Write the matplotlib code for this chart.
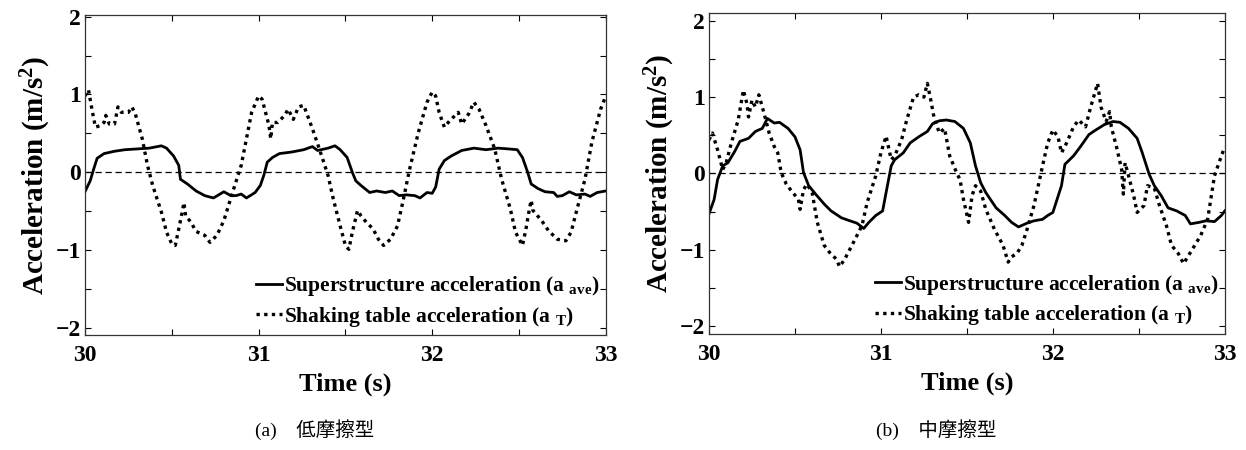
import numpy as np
import matplotlib.pyplot as plt
from matplotlib.ticker import MultipleLocator

plt.rcParams['font.family'] = ['Liberation Serif', 'Noto Sans CJK JP']
plt.rcParams['mathtext.fontset'] = 'custom'
plt.rcParams['mathtext.rm'] = 'Liberation Serif:bold'
plt.rcParams['mathtext.it'] = 'Liberation Serif:bold'
plt.rcParams['mathtext.bf'] = 'Liberation Serif:bold'

# (a) low friction: superstructure acceleration
t_sup_a = [30.00, 30.03, 30.05, 30.07, 30.11, 30.17, 30.23, 30.30, 30.37, 30.44, 30.47, 30.51,
           30.54, 30.55, 30.59, 30.64, 30.69, 30.74, 30.77, 30.80, 30.84, 30.87, 30.90, 30.93,
           30.98, 31.01, 31.03, 31.05, 31.08, 31.12, 31.19, 31.26, 31.31, 31.34, 31.40, 31.44,
           31.47, 31.51, 31.54, 31.56, 31.59, 31.64, 31.68, 31.73, 31.77, 31.81, 31.85, 31.90,
           31.93, 31.97, 32.00, 32.02, 32.04, 32.07, 32.11, 32.17, 32.24, 32.31, 32.38, 32.44,
           32.49, 32.52, 32.55, 32.57, 32.61, 32.65, 32.70, 32.72, 32.75, 32.79, 32.83, 32.88,
           32.91, 32.95, 33.00]
a_sup_a = [-0.25, -0.11, 0.04, 0.18, 0.24, 0.27, 0.29, 0.30, 0.31, 0.34, 0.31, 0.21,
           0.09, -0.09, -0.15, -0.24, -0.30, -0.33, -0.29, -0.25, -0.30, -0.30, -0.28, -0.33,
           -0.26, -0.17, -0.04, 0.13, 0.19, 0.24, 0.26, 0.29, 0.33, 0.28, 0.31, 0.34,
           0.29, 0.19, 0.00, -0.11, -0.17, -0.26, -0.24, -0.26, -0.24, -0.30, -0.29, -0.30,
           -0.33, -0.26, -0.27, -0.19, 0.04, 0.15, 0.21, 0.28, 0.31, 0.29, 0.31, 0.30,
           0.29, 0.19, 0.00, -0.15, -0.21, -0.25, -0.26, -0.31, -0.30, -0.25, -0.29, -0.28,
           -0.31, -0.26, -0.24]

# (a) low friction: shaking table acceleration
t_tab_a = [30.00, 30.02, 30.04, 30.06, 30.09, 30.11, 30.12, 30.14, 30.17, 30.19, 30.21, 30.25,
           30.27, 30.29, 30.33, 30.36, 30.39, 30.44, 30.47, 30.50, 30.52, 30.54, 30.56, 30.57,
           30.58, 30.61, 30.64, 30.69, 30.72, 30.76, 30.80, 30.85, 30.90, 30.93, 30.96, 31.00,
           31.02, 31.04, 31.06, 31.07, 31.08, 31.11, 31.15, 31.17, 31.20, 31.23, 31.26, 31.31,
           31.35, 31.40, 31.43, 31.47, 31.50, 31.52, 31.54, 31.57, 31.59, 31.62, 31.66, 31.69,
           31.72, 31.76, 31.80, 31.83, 31.87, 31.92, 31.97, 32.00, 32.02, 32.04, 32.07, 32.10,
           32.15, 32.17, 32.21, 32.24, 32.27, 32.31, 32.36, 32.40, 32.45, 32.48, 32.52, 32.54,
           32.56, 32.57, 32.58, 32.63, 32.67, 32.72, 32.77, 32.80, 32.83, 32.88, 32.92, 32.97,
           33.00]
a_tab_a = [0.98, 1.06, 0.81, 0.58, 0.60, 0.64, 0.73, 0.62, 0.62, 0.84, 0.77, 0.77,
           0.84, 0.75, 0.43, 0.09, -0.17, -0.51, -0.77, -0.92, -0.94, -0.73, -0.51, -0.39,
           -0.56, -0.64, -0.76, -0.81, -0.90, -0.81, -0.62, -0.26, 0.09, 0.43, 0.77, 0.98,
           0.94, 0.77, 0.60, 0.43, 0.64, 0.64, 0.73, 0.81, 0.68, 0.84, 0.86, 0.56,
           0.30, -0.04, -0.34, -0.69, -0.94, -0.99, -0.77, -0.49, -0.56, -0.64, -0.73, -0.86,
           -0.94, -0.86, -0.69, -0.39, 0.04, 0.51, 0.90, 1.03, 0.98, 0.77, 0.58, 0.66,
           0.77, 0.62, 0.75, 0.90, 0.81, 0.60, 0.30, -0.09, -0.47, -0.77, -0.94, -0.73,
           -0.47, -0.36, -0.49, -0.62, -0.75, -0.86, -0.88, -0.77, -0.51, -0.09, 0.39, 0.81,
           0.98]

# (b) medium friction: superstructure acceleration
t_sup_b = [30.00, 30.03, 30.05, 30.08, 30.11, 30.15, 30.18, 30.23, 30.27, 30.31, 30.34, 30.38,
           30.41, 30.46, 30.50, 30.53, 30.55, 30.58, 30.62, 30.67, 30.71, 30.77, 30.82, 30.86,
           30.90, 30.93, 30.97, 31.01, 31.03, 31.06, 31.08, 31.13, 31.17, 31.22, 31.27, 31.30,
           31.34, 31.38, 31.43, 31.48, 31.52, 31.55, 31.58, 31.61, 31.67, 31.72, 31.76, 31.80,
           31.85, 31.89, 31.94, 31.97, 32.00, 32.05, 32.07, 32.12, 32.16, 32.21, 32.25, 32.30,
           32.35, 32.39, 32.44, 32.49, 32.52, 32.56, 32.59, 32.63, 32.67, 32.72, 32.77, 32.80,
           32.85, 32.89, 32.94, 32.98, 33.00]
a_sup_b = [-0.53, -0.34, -0.08, 0.10, 0.14, 0.29, 0.42, 0.46, 0.55, 0.59, 0.72, 0.66,
           0.67, 0.59, 0.48, 0.31, 0.01, -0.16, -0.27, -0.40, -0.49, -0.58, -0.62, -0.65,
           -0.72, -0.64, -0.55, -0.49, -0.25, 0.10, 0.18, 0.27, 0.40, 0.48, 0.55, 0.65,
           0.69, 0.70, 0.68, 0.59, 0.40, 0.10, -0.12, -0.25, -0.45, -0.55, -0.64, -0.70,
           -0.65, -0.62, -0.60, -0.55, -0.51, -0.16, 0.12, 0.23, 0.35, 0.51, 0.57, 0.64,
           0.68, 0.67, 0.59, 0.46, 0.27, -0.01, -0.16, -0.29, -0.45, -0.49, -0.55, -0.66,
           -0.64, -0.62, -0.63, -0.55, -0.49]

# (b) medium friction: shaking table acceleration
t_tab_b = [30.00, 30.02, 30.05, 30.08, 30.10, 30.13, 30.17, 30.20, 30.22, 30.23, 30.25, 30.27,
           30.29, 30.32, 30.35, 30.38, 30.40, 30.42, 30.45, 30.48, 30.52, 30.53, 30.55, 30.57,
           30.60, 30.63, 30.67, 30.70, 30.74, 30.76, 30.79, 30.82, 30.85, 30.89, 30.92, 30.97,
           31.00, 31.03, 31.06, 31.08, 31.12, 31.15, 31.19, 31.22, 31.25, 31.27, 31.29, 31.31,
           31.34, 31.37, 31.40, 31.44, 31.46, 31.48, 31.51, 31.53, 31.55, 31.58, 31.61, 31.66,
           31.71, 31.74, 31.76, 31.79, 31.82, 31.85, 31.89, 31.94, 31.97, 32.00, 32.03, 32.05,
           32.08, 32.12, 32.15, 32.19, 32.22, 32.26, 32.28, 32.31, 32.33, 32.34, 32.37, 32.40,
           32.41, 32.42, 32.44, 32.47, 32.49, 32.53, 32.55, 32.59, 32.62, 32.66, 32.69, 32.73,
           32.76, 32.79, 32.82, 32.86, 32.90, 32.94, 32.98, 33.00]
a_tab_b = [0.44, 0.53, 0.31, 0.05, 0.14, 0.40, 0.70, 1.09, 0.92, 0.74, 0.96, 0.87,
           1.03, 0.79, 0.53, 0.35, 0.27, 0.01, -0.14, -0.23, -0.34, -0.47, -0.21, -0.14,
           -0.25, -0.64, -0.94, -1.03, -1.12, -1.22, -1.12, -0.99, -0.86, -0.68, -0.38, -0.03,
           0.27, 0.49, 0.18, 0.23, 0.44, 0.70, 1.00, 1.03, 1.00, 1.18, 0.96, 0.72,
           0.53, 0.59, 0.23, 0.01, -0.08, -0.34, -0.64, -0.29, -0.16, -0.23, -0.47, -0.73,
           -0.94, -1.16, -1.09, -1.05, -0.94, -0.73, -0.42, 0.10, 0.40, 0.57, 0.48, 0.27,
           0.40, 0.61, 0.70, 0.61, 0.87, 1.18, 0.87, 0.68, 0.81, 0.61, 0.35, 0.05,
           -0.27, 0.14, -0.03, -0.29, -0.51, -0.42, -0.16, -0.19, -0.42, -0.68, -0.94, -1.05,
           -1.18, -1.07, -0.96, -0.81, -0.60, -0.03, 0.23, 0.35]

panels = [
    (t_sup_a, a_sup_a, t_tab_a, a_tab_a, '(a)', '低摩擦型', (-2.09, 2.02)),
    (t_sup_b, a_sup_b, t_tab_b, a_tab_b, '(b)', '中摩擦型', (-2.1, 2.1)),
]
boxes = [[0.0682, 0.2556, 0.418, 0.711], [0.569, 0.258, 0.414, 0.713]]

fig = plt.figure(figsize=(12.46, 4.5), dpi=100)

for (ts, asup, tt, atab, tag, name, ylim), box in zip(panels, boxes):
    ax = fig.add_axes(box)
    ax.axhline(0, color='black', lw=0.9, ls=(0, (5, 3)))
    ax.plot(ts, asup, color='black', lw=2.0, ls='-',
            label=r'Superstructure acceleration (a $_{\rm ave}$)')
    ax.plot(tt, atab, color='black', lw=2.4, ls=(0, (1, 1.3)),
            label=r'Shaking table acceleration (a $_{\rm T}$)')
    ax.set_xlim(30, 33)
    ax.set_ylim(*ylim)
    ax.xaxis.set_major_locator(MultipleLocator(1))
    ax.xaxis.set_minor_locator(MultipleLocator(0.5))
    ax.yaxis.set_major_locator(MultipleLocator(1))
    ax.yaxis.set_minor_locator(MultipleLocator(0.5))
    ax.tick_params(which='both', direction='in', top=True, right=True,
                   length=4, width=0.8, labelsize=17)
    ax.tick_params(axis='x', pad=7)
    ax.tick_params(axis='y', pad=3)
    for lab in ax.get_xticklabels() + ax.get_yticklabels():
        lab.set_fontweight('bold')
    for sp in ax.spines.values():
        sp.set_linewidth(0.9)
        sp.set_color('#333333')
    ax.set_xlabel('Time (s)', fontsize=19, fontweight='bold', labelpad=5)
    ax.set_ylabel(r'Acceleration (m/s$^{\rm 2}$)', fontsize=21, fontweight='bold', labelpad=2)
    ax.legend(loc='lower right', frameon=False,
              handlelength=1.2, handletextpad=0.1, labelspacing=0.3,
              borderpad=0.2, borderaxespad=0.1, prop={'weight': 'bold', 'size': 15.5})
    cx = box[0] + box[2] * 0.44
    fig.text(cx, 0.045, tag + '    ' + name, ha='center', va='center', fontsize=14)

fig.savefig('out.png', dpi=100)
